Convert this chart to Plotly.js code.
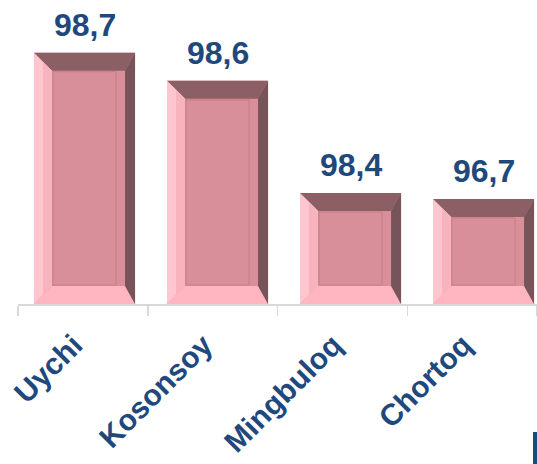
<!DOCTYPE html>
<html>
<head>
<meta charset="utf-8">
<script src="https://cdn.plot.ly/plotly-3.0.1.min.js"></script>
<style>html,body{margin:0;padding:0;background:#fff;}#chart{width:537px;height:464px;}</style>
</head>
<body>
<div id="chart"></div>
<script>
// Data
const categories = ["Uychi", "Kosonsoy", "Mingbuloq", "Chortoq"];
const values = [98.7, 98.6, 98.4, 96.7];           // printed labels
const barHeights = [100, 88.8, 44.2, 41.8];         // drawn bar heights (relative)

// Style / geometry
const W = 537, H = 464;
const M = {l: 18, r: 0, t: 10, b: 160};
const plotW = W - M.l - M.r, plotH = H - M.t - M.b;
const yMax = 117;
const x2Range = [-0.5, 3.402];
const barW = 0.76;
const pxX = (x2Range[1] - x2Range[0]) / plotW;
const pxY = yMax / plotH;
const bevL = 18 * pxX, bevR = 10 * pxX, bevT = 18 * pxY, bevB = 18 * pxY;
const inset = 19;

const faceColor = "#d98f99";
const topColor = "#8c5f64";
const rightColor = "#77535a";
const bottomColor = "#ffb6c1";
const leftColor = "#ffc6d0";
const leftInner = "#f7b3be";
const frameColor = "#c98089";
const textColor = "#1F497D";
const font = '"Liberation Sans", Arial, sans-serif';

const xIdx = categories.map((c, i) => i);

const shapes = [];
const poly = (pts, color) => ({
  type: "path", xref: "x2", yref: "y", layer: "above",
  path: "M" + pts.map(p => p[0] + "," + p[1]).join("L") + "Z",
  fillcolor: color, line: {width: 0}
});
xIdx.forEach((c, i) => {
  const h = barHeights[i];
  const x0 = c - barW / 2, x1 = c + barW / 2, y0 = 0, y1 = h;
  shapes.push(poly([[x0, y1], [x1, y1], [x1 - bevR, y1 - bevT], [x0 + bevL, y1 - bevT]], topColor));
  shapes.push(poly([[x0, y0], [x1, y0], [x1 - bevR, y0 + bevB], [x0 + bevL, y0 + bevB]], bottomColor));
  shapes.push(poly([[x0, y0], [x0, y1], [x0 + bevL, y1 - bevT], [x0 + bevL, y0 + bevB]], leftColor));
  shapes.push(poly([[x0 + bevL * 0.5, y0 + bevB * 0.5], [x0 + bevL * 0.5, y1 - bevT * 0.5], [x0 + bevL, y1 - bevT], [x0 + bevL, y0 + bevB]], leftInner));
  shapes.push(poly([[x1, y1], [x1, y0], [x1 - bevR, y0 + bevB], [x1 - bevR, y1 - bevT]], rightColor));
  shapes.push({
    type: "rect", xref: "x2", yref: "y", layer: "above",
    x0: x0 + inset * pxX, x1: x1 - inset * pxX, y0: y0 + inset * pxY, y1: y1 - inset * pxY,
    line: {color: frameColor, width: 1.2}, fillcolor: "rgba(0,0,0,0)"
  });
});
// small clipped mark at lower right
shapes.push({type: "rect", xref: "paper", yref: "paper", x0: (533 - M.l) / plotW, x1: 1.01,
  y0: -(H - M.t - plotH) / plotH - 0.01, y1: -(432 - M.t - plotH) / plotH,
  fillcolor: textColor, line: {width: 0}});

const annotations = xIdx.map((c, i) => ({
  xref: "x2", yref: "y", x: c, y: barHeights[i],
  text: values[i].toFixed(1).replace(".", ","),
  showarrow: false, yanchor: "bottom", yshift: 8,
  font: {family: font, size: 32, color: textColor, weight: "bold"}
}));

const traces = [
  {
    type: "bar", x: xIdx, y: barHeights, xaxis: "x2", yaxis: "y",
    width: barW, marker: {color: faceColor, line: {width: 0}},
    hoverinfo: "skip", showlegend: false
  },
  {
    type: "scatter", x: categories, y: categories.map(() => null), xaxis: "x", yaxis: "y",
    mode: "markers", showlegend: false, hoverinfo: "skip"
  }
];

const layout = {
  width: W, height: H, margin: M,
  paper_bgcolor: "#fff", plot_bgcolor: "#fff",
  showlegend: false,
  xaxis: {
    type: "category", range: [-0.5, 3.5], categoryarray: categories, categoryorder: "array",
    showline: true, linecolor: "#d9d9d9", linewidth: 1.5,
    ticks: "outside", tickson: "boundaries", ticklen: 10, tickcolor: "#d9d9d9", tickwidth: 1.5,
    tickangle: -45, ticklabelstandoff: 10, ticklabelshift: -9,
    tickfont: {family: font, size: 30, color: textColor, weight: "bold"},
    showgrid: false, zeroline: false, fixedrange: true
  },
  xaxis2: {
    overlaying: "x", range: x2Range, visible: false, fixedrange: true
  },
  yaxis: {range: [0, yMax], visible: false, showgrid: false, zeroline: false, fixedrange: true},
  shapes: shapes,
  annotations: annotations
};

Plotly.newPlot("chart", traces, layout, {displayModeBar: false, staticPlot: true});
</script>
</body>
</html>
